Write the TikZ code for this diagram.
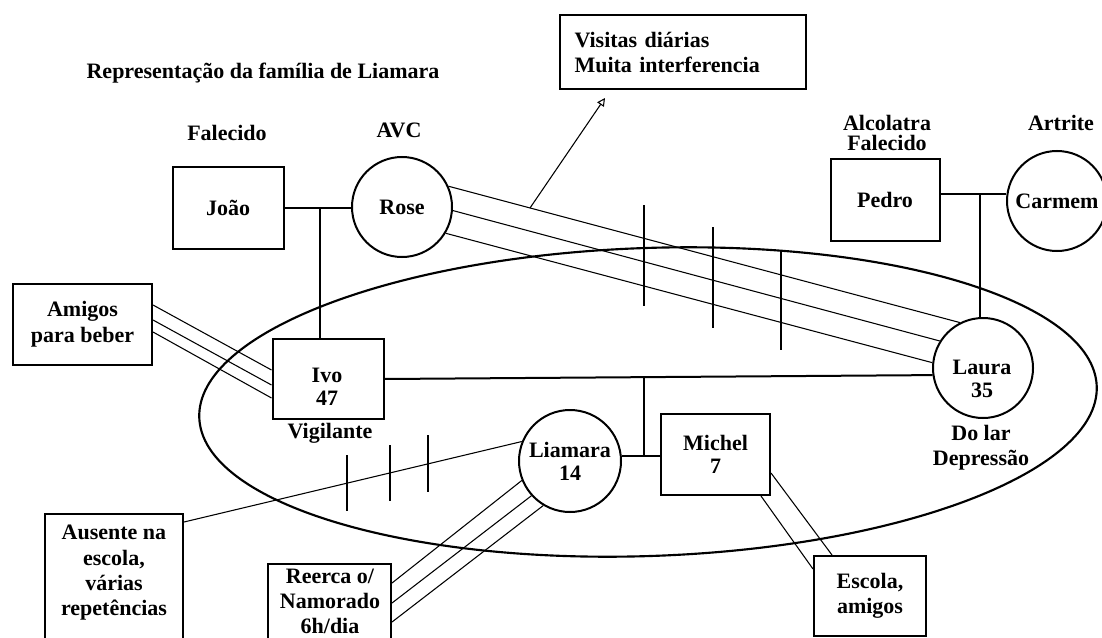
\documentclass[tikz,border=0pt]{standalone}
\usepackage{fontspec}
\setmainfont{Liberation Serif}
\usetikzlibrary{arrows.meta,calc}
\begin{document}
\begin{tikzpicture}[x=0.75pt,y=-0.75pt,
  every node/.style={font=\fontsize{16.5}{18.75}\selectfont\bfseries},
  box/.style={draw, line width=1.5pt, rectangle, inner sep=0pt, align=center},
  pers/.style={draw, line width=1.5pt, circle, inner sep=0pt, minimum size=75pt, align=center},
  tight/.style={font=\fontsize{16.5}{17.25}\selectfont\bfseries},
  rel/.style={line width=1.5pt},
  tie/.style={line width=0.8pt},
  hashmark/.style={line width=0.8pt}]
\useasboundingbox (0,0) rectangle (1102,638);

% family boundary
\draw[line width=1.6pt, rotate around={2:(648,402)}] (648,402) ellipse [x radius=336.75pt, y radius=115.5pt];

% people
\node[box, minimum width=83.25pt, minimum height=60.75pt] (joao) at (228,208) {João};
\node[pers] (rose) at (402,207) {Rose};
\node[box, minimum width=81.75pt, minimum height=61.5pt] (pedro) at (885,200) {Pedro};
\node[pers] (carmem) at (1057,201) {Carmem};
\node[box, minimum width=83.25pt, minimum height=60pt] (ivo) at (328,379) {};
\node[tight, align=center] (ivotxt) at (327,387) {Ivo\\47};
\node[pers] (laura) at (983,368) {};
\node[tight, align=center] (lauratxt) at (982,379) {Laura\\35};
\node[pers, tight, minimum size=76.5pt] (liamara) at (570,461) {Liamara\\14};
\node[box, tight, minimum width=81.75pt, minimum height=60.75pt] (michel) at (715.5,454.5) {Michel\\7};

% outside boxes
\node[box, font=\fontsize{16.5}{19.5}\selectfont\bfseries, minimum width=104.25pt, minimum height=60.75pt] (amigos) at (82.5,324.5) {Amigos\\para beber};
\node[box, align=left, text width=162pt, inner xsep=11.25pt, minimum height=55.5pt] (visitas) at (682.5,52) {Visitas diárias\\Muita interferencia};
\node[box, minimum width=84pt, minimum height=60pt] (escola) at (870,596) {Escola,\\amigos};
\node[box, anchor=north, minimum width=103.5pt, minimum height=125pt] (ausente) at (114,513) {};
\node[align=center, font=\fontsize{16.5}{19}\selectfont\bfseries] (ausentetxt) at (114,573) {Ausente na\\escola,\\várias\\repetências};
\node[box, anchor=north, minimum width=92.25pt, minimum height=100pt] (reerca) at (329.5,563) {};
\node[align=center, font=\fontsize{16.5}{18.75}\selectfont\bfseries] (reercatxt) at (330,601) {Reerca o/\\Namorado\\6h/dia};

% labels
\node (title) at (263,73) {Representação da família de Liamara};
\node (falecido) at (227,133) {Falecido};
\node (avc) at (399,130) {AVC};
\node[align=center, font=\fontsize{16.5}{15}\selectfont\bfseries] (alcool) at (887,133) {Alcolatra\\Falecido};
\node (artrite) at (1061,123) {Artrite};
\node (vigilante) at (330,433) {Vigilante};
\node[align=center] (dolar) at (981,448) {Do lar\\Depressão};

% family lines
\draw[rel] (joao.east) -- (joao.east -| rose.west);
\coordinate (jr) at (320,208);
\draw[rel] (jr) -- (jr |- ivo.north);
\draw[rel] (pedro.east |- 0,194) -- (carmem.west |- 0,194);
\coordinate (pc) at (980,194);
\draw[rel] (pc) -- (pc |- laura.north);
\draw[rel] (ivo.east) -- (laura.188);
\coordinate (il) at ($(ivo.east)!0.4735!(laura.188)$);
\draw[rel] (il) -- (il |- liamara.6);
\draw[rel] (liamara.6) -- (liamara.6 -| michel.west);

% Rose - Laura
\draw[tie] (rose.24.6) -- (laura.117.5);
\draw[tie] (rose.-4.5) -- (laura.148.7);
\draw[tie] (rose.-31) -- (laura.174.4);
\draw[hashmark] (644,205) -- (644,306);
\draw[hashmark] (713,227) -- (713,328);
\draw[hashmark] (781,250) -- (781,350);
\coordinate (arrs) at (530,208);
\coordinate (arrt) at (605,98);
\draw[tie, -{Triangle[open, length=6pt, width=6pt]}] (arrs) -- (arrt);

% Amigos - Ivo
\draw[tie] (amigos.east |- 0,305) -- (ivo.west |- 0,370);
\draw[tie] (amigos.east |- 0,320) -- (ivo.west |- 0,385);
\draw[tie] (amigos.east |- 0,332) -- (ivo.west |- 0,398);

% Ausente - Liamara
\draw[tie] (ausente.east |- 0,522) -- (liamara.158.4);
\draw[hashmark] (347,455) -- (347,511);
\draw[hashmark] (390,445) -- (390,501);
\draw[hashmark] (428,435) -- (428,492);

% Reerca - Liamara
\draw[tie] (reerca.east |- 0,583) -- (liamara.202.6);
\draw[tie] (reerca.east |- 0,603) -- (liamara.222.7);
\draw[tie] (reerca.east |- 0,622) -- (liamara.239);

% Michel - Escola
\draw[tie] (michel.east |- 0,473) -- (escola.north -| 832,0);
\draw[tie] (michel.south -| 761,0) -- (escola.west |- 0,569);
\end{tikzpicture}
\end{document}
